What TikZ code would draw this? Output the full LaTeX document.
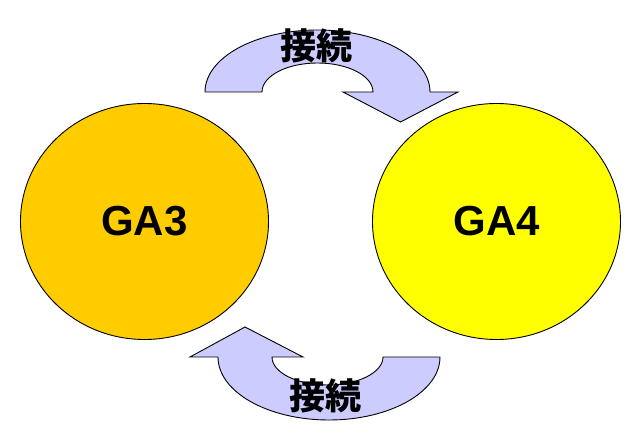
\documentclass[tikz,border=0pt]{standalone}
\usepackage{fontspec}
\setmainfont{Liberation Sans}
\newfontfamily\cjk{Noto Sans CJK JP}[BoldFont={Noto Sans CJK JP Black}]
\definecolor{ga3}{HTML}{FFCC00}
\definecolor{ga4}{HTML}{FFFF00}
\definecolor{arr}{HTML}{CCCCFF}
\begin{document}
\begin{tikzpicture}[x=1pt,y=1pt,
  ga/.style={ellipse, draw=black, line width=0.9pt, minimum width=248pt, minimum height=236pt, inner sep=0pt, font=\fontsize{42}{42}\selectfont\bfseries},
  bigarrow/.style={draw=black, line width=0.9pt, fill=arr, line join=miter},
  lbl/.style={inner sep=0pt, font=\fontsize{36}{36}\selectfont\cjk\bfseries}]
\usetikzlibrary{shapes.geometric}
\fill[white] (0,0) rectangle (640,442);
\useasboundingbox (0,0) rectangle (640,442);
\node[ga, fill=ga3] (ga3) at (144.5,220.5) {GA3};
\node[ga, fill=ga4] (ga4) at (496.5,220.5) {GA4};
% top arrow
\draw[bigarrow] (205,350) arc[start angle=180, end angle=0, x radius=112.5, y radius=62]
  -- (458,350) -- (400.5,320) -- (343,350) -- (373,350)
  arc[start angle=0, end angle=180, x radius=55.5, y radius=29] -- cycle;
% bottom arrow
\draw[bigarrow] (218,85) arc[start angle=180, end angle=360, x radius=111, y radius=63]
  -- (383,85) arc[start angle=0, end angle=-180, x radius=55.5, y radius=28]
  -- (303,85) -- (245,115) -- (190,85) -- cycle;
\node[lbl] (t1) at (316.5,396) {接続};
\node[lbl] (t2) at (325.5,46) {接続};
\end{tikzpicture}
\end{document}
